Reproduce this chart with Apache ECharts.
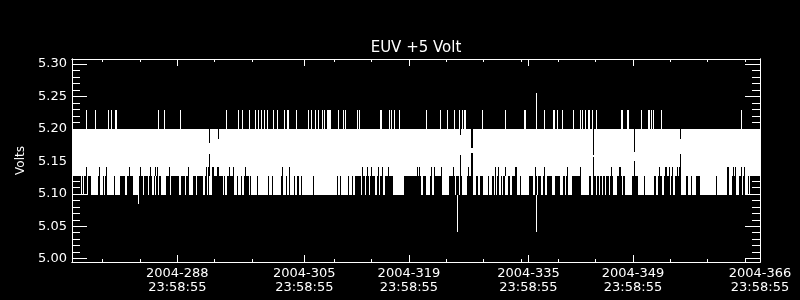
<!DOCTYPE html>
<html>
<head>
<meta charset="utf-8">
<script src="https://cdn.jsdelivr.net/npm/echarts@6/dist/echarts.min.js"></script>
<style>
html,body{margin:0;padding:0;background:#000;}
#c{width:800px;height:300px;}
</style>
</head>
<body>
<div id="c"></div>
<script>
// ---- Data (day-of-year 2004, volts) ----
const titleText = 'EUV +5 Volt';
const yName = 'Volts';
const year = '2004';
const timeOfDay = '23:58:55';
const xMajorTicks = [288, 305, 319, 335, 349, 366];
const xMinorTicks = [278, 283, 293, 298, 309, 314, 324, 329, 334, 339, 344, 354, 359, 364];
const yMajorTicks = [5.00, 5.05, 5.10, 5.15, 5.20, 5.25, 5.30];
const yMinorTicks = [5.01, 5.02, 5.03, 5.04, 5.06, 5.07, 5.08, 5.09, 5.11, 5.12, 5.13, 5.14,
                     5.16, 5.17, 5.18, 5.19, 5.21, 5.22, 5.23, 5.24, 5.26, 5.27, 5.28, 5.29];

// quantized voltage levels seen in the trace
const dataStart = 273.9, dataEnd = 366.0;
const levelTop = 5.200;      // upper edge of the dense band
const levelMid = 5.127;      // lower edge of the always-filled band
const levelNotch = 5.141;    // minimum where the band thins
const levelLow = 5.098;      // lowest regular dip
const levelSpike = 5.229;    // regular upward excursion

// spans (start day, end day) where the trace dips to levelLow densely
const lowSpans = [
 [275.10,275.24],[275.37,275.55],[275.86,276.04],[276.44,277.38],[277.69,277.78],[277.83,278.01],
 [278.23,278.36],[278.59,279.57],[279.70,280.28],[281.04,281.26],[282.07,282.82],[283.40,283.54],
 [284.07,284.21],[284.61,284.83],[285.06,285.19],[285.41,285.59],[285.86,286.48],[287.02,287.15],
 [288.18,288.45],[289.07,289.21],[289.61,290.05],[290.50,290.63],[291.39,291.75],[291.93,292.06],
 [292.28,292.64],
 [294.11,294.25],[294.34,294.65],[295.54,295.99],[296.12,296.57],[296.66,296.92],[297.64,297.77],
 [297.86,298.66],[298.80,300.14],[300.23,300.67],[300.76,301.88],[302.10,302.55],[302.68,302.90],
 [303.04,303.57],[303.71,303.97],[304.33,304.55],[304.69,306.16],[306.29,309.37],[309.51,309.73],
 [309.86,310.85],[310.98,311.38],
 [311.51,311.74],[312.58,312.72],[313.08,313.25],[313.61,313.75],[314.50,314.73],[314.95,315.17],
 [315.53,315.75],[316.82,318.39],[320.62,320.84],[321.29,321.78],[322.09,322.31],[323.43,324.32],
 [325.12,325.30],[325.66,325.88],[326.11,326.77],[327.36,327.98],[328.25,328.47],[328.87,329.59],
 [329.76,330.12],
 [330.34,330.48],[330.70,330.83],[331.10,331.28],[331.46,331.64],[331.90,332.22],[332.57,332.80],
 [333.47,333.87],[333.96,335.12],[335.56,335.83],[336.14,336.28],[336.72,336.90],[337.26,337.48],
 [338.15,338.60],[339.27,339.58],[339.85,340.03],[340.29,340.83],[342.08,343.15],[343.42,343.60],
 [344.04,344.18],[344.40,344.62],[344.85,345.02],[345.20,345.38],[345.74,345.83],[346.27,346.85],
 [347.52,347.66],[347.88,348.86],
 [349.66,350.47],[350.56,351.81],[352.07,352.34],[352.88,353.14],[353.99,354.13],[354.30,354.57],
 [355.42,356.09],[356.36,356.71],[356.89,357.43],[358.01,360.11],[360.24,361.58],[361.80,362.25],
 [362.78,363.14],[363.59,363.76],[364.03,364.39],[364.57,364.70]
];

// days with an upward excursion to levelSpike
const spikeDays = [
 275.77,277.02,278.72,279.17,279.66,279.80,285.37,286.26,288.40,
 294.51,296.12,296.66,297.64,298.35,298.80,299.15,299.56,299.96,300.81,301.34,302.23,302.68,302.82,
 303.88,305.49,305.85,306.47,306.83,307.37,307.68,308.03,308.17,308.30,308.44,309.51,310.18,310.49,
 312.05,312.27,315.17,315.31,316.38,316.65,316.96,317.63,321.29,323.21,324.10,324.99,325.66,326.11,
 326.33,326.55,328.78,
 331.90,334.36,334.58,337.04,338.24,338.38,338.87,339.49,340.96,341.95,342.17,342.61,342.97,343.06,
 343.51,344.04,347.43,347.56,348.19,348.32,
 350.11,351.00,351.18,351.36,351.67,352.79,363.45
];

// isolated extreme readings [day, volts]
const highPoints = [[336.05, 5.256]];
const lowPoints = [[282.78, 5.085], [325.48, 5.041], [336.05, 5.041]];

// days where the trace did not reach below levelNotch (thin dark notches)
const notchDays = [
 275.77,277.56,278.45,281.58,283.05,284.30,284.95,285.30,286.93,289.40,291.80,292.15,
 292.64,292.75,293.31,293.45,294.96,295.45,297.00,301.95,302.95,
 312.76,313.35,313.97,314.85,315.40,316.15,320.13,320.35,321.90,322.40,323.30,324.86,326.90,
 330.55,330.92,331.82,333.15,333.33,335.90,337.15,340.10,341.95,346.10,347.08,347.30,
 352.50,353.25,353.46,353.86,354.20,354.88,355.11,361.58,361.70,362.38,362.60,363.50,363.90
];

// data gaps [start day, end day, low volts, high volts]
const gaps = [
 [292.20,292.33,5.179,5.200],[292.20,292.33,5.127,5.162],
 [293.44,293.57,5.184,5.200],
 [325.88,326.01,5.190,5.200],[325.88,326.01,5.098,5.160],
 [327.36,327.58,5.170,5.200],[327.36,327.58,5.098,5.163],
 [343.64,343.82,5.160,5.200],[343.64,343.82,5.098,5.157],
 [349.08,349.21,5.165,5.200],[349.08,349.21,5.127,5.150],
 [355.33,355.46,5.184,5.200],[355.33,355.46,5.127,5.162]
];

// ---- build rect tables [x0, x1, yLow, yHigh] ----
const whiteRects = [[dataStart, dataEnd, levelMid, levelTop]];
lowSpans.forEach(s => whiteRects.push([s[0], s[1], levelLow, levelMid]));
spikeDays.forEach(d => whiteRects.push([d, d, levelTop, levelSpike]));
highPoints.forEach(p => whiteRects.push([p[0], p[0], levelTop, p[1]]));
lowPoints.forEach(p => whiteRects.push([p[0], p[0], p[1], levelLow]));
const blackRects = [];
notchDays.forEach(d => blackRects.push([d, d, levelMid, levelNotch]));
gaps.forEach(g => blackRects.push(g));

function rectRenderer(color) {
  return function (params, api) {
    const a = api.coord([api.value(0), api.value(3)]);
    const b = api.coord([api.value(1), api.value(2)]);
    const x0 = Math.round(a[0]);
    const x1 = Math.max(x0 + 1, Math.round(b[0]));
    const y0 = Math.round(a[1]);
    const y1 = Math.max(y0 + 1, Math.round(b[1]));
    return { type: 'rect', shape: { x: x0, y: y0, width: x1 - x0, height: y1 - y0 },
             style: { fill: color } };
  };
}

const X_MIN = 273.9, X_MAX = 366.0, Y_MIN = 4.9949, Y_MAX = 5.3077;
const FONT = 'DejaVu Sans';
const WHITE = '#ffffff';

function xAx(pos, ticks, len, withLabels) {
  return {
    type: 'value', position: pos, min: X_MIN, max: X_MAX, offset: 0,
    axisLine: { show: true, onZero: false, lineStyle: { color: WHITE, width: 1 } },
    axisTick: { show: true, inside: true, length: len, customValues: ticks, lineStyle: { color: WHITE, width: 1 } },
    axisLabel: withLabels ? {
      show: true, customValues: ticks, color: WHITE, fontFamily: FONT, fontSize: 13,
      lineHeight: 14, margin: 5,
      formatter: v => year + '-' + Math.round(v) + '\n' + timeOfDay
    } : { show: false },
    splitLine: { show: false }, minorTick: { show: false }
  };
}
function yAx(pos, ticks, len, withLabels) {
  const o = {
    type: 'value', position: pos, min: Y_MIN, max: Y_MAX, offset: 0,
    axisLine: { show: true, onZero: false, lineStyle: { color: WHITE, width: 1 } },
    axisTick: { show: true, inside: true, length: len, customValues: ticks, lineStyle: { color: WHITE, width: 1 } },
    axisLabel: withLabels ? {
      show: true, customValues: ticks, color: WHITE, fontFamily: FONT, fontSize: 13, margin: 5,
      formatter: v => v.toFixed(2)
    } : { show: false },
    splitLine: { show: false }, minorTick: { show: false }
  };
  if (withLabels) {
    o.name = yName; o.nameLocation = 'middle'; o.nameRotate = 90; o.nameGap = 43;
    o.nameTextStyle = { color: WHITE, fontFamily: FONT, fontSize: 12 };
  }
  return o;
}

const chart = echarts.init(document.getElementById('c'), null, { renderer: 'canvas' });
chart.setOption({
  backgroundColor: '#000000',
  animation: false,
  grid: { left: 72, right: 40, top: 59, bottom: 38, containLabel: false, show: false },
  graphic: [{
    type: 'text', x: 416, y: 48, silent: true,
    style: { text: titleText, fill: WHITE, font: '15px "DejaVu Sans"', align: 'center', verticalAlign: 'middle' }
  }],
  xAxis: [
    xAx('bottom', xMajorTicks, 7, true),
    xAx('bottom', xMinorTicks, 3, false),
    xAx('top', xMajorTicks, 7, false),
    xAx('top', xMinorTicks, 3, false)
  ],
  yAxis: [
    yAx('left', yMajorTicks, 15, true),
    yAx('left', yMinorTicks, 8, false),
    yAx('right', yMajorTicks, 15, false),
    yAx('right', yMinorTicks, 8, false)
  ],
  series: [
    { type: 'custom', xAxisIndex: 0, yAxisIndex: 0, renderItem: rectRenderer(WHITE),
      encode: { x: [0, 1], y: [2, 3] }, data: whiteRects, silent: true, z: 2 },
    { type: 'custom', xAxisIndex: 0, yAxisIndex: 0, renderItem: rectRenderer('#000000'),
      encode: { x: [0, 1], y: [2, 3] }, data: blackRects, silent: true, z: 3 }
  ]
});
</script>
</body>
</html>
